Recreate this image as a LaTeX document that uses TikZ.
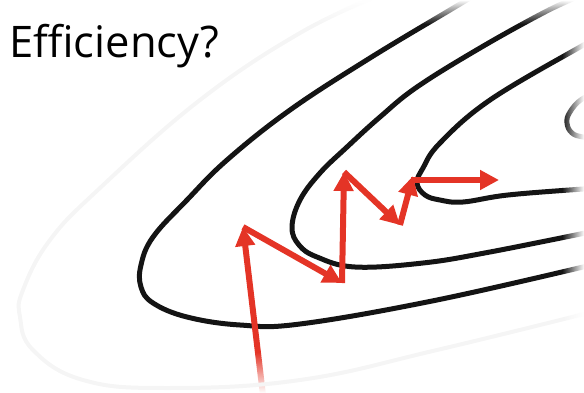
\documentclass[tikz,border=0pt]{standalone}
\usepackage{fontspec}
\setmainfont{Open Sans}
\usetikzlibrary{arrows.meta,fadings}
\tikzfading[name=fadeN, top color=transparent!0, bottom color=transparent!100]
\tikzfading[name=fadeE, right color=transparent!0, left color=transparent!100]
\tikzfading[name=fadeS, bottom color=transparent!0, top color=transparent!100]
\definecolor{arrowred}{RGB}{228,52,38}
\begin{document}
\begin{tikzpicture}[x=1pt,y=-1pt,
  contour/.style={line width=5pt, black!92},
  faint/.style={line width=4pt, black!4},
  grad/.style={line width=6pt, arrowred, -{Triangle[length=19pt,width=19pt]}},
]
\useasboundingbox (0,0) rectangle (584,393);
\clip (0,0) rectangle (584,393);
% contours
\draw[contour] plot[smooth, tension=0.65] coordinates {(475,-5) (450,10) (370,58) (290,110) (227,160) (187,200) (153,237) (141,265) (141,287) (153,303) (187,317) (240,325) (300,324) (437,300) (600,263)};
\draw[contour] plot[smooth, tension=0.65] coordinates {(575,-2) (543,13) (480,48) (417,87) (380,117) (347,147) (320,173) (300,200) (292,227) (299,245) (317,257) (355,267) (423,263) (490,252) (600,230)};
\draw[contour] plot[smooth, tension=0.65] coordinates {(600,37) (580,47) (490,100) (440,143) (423,168) (417,183) (425,195) (440,200) (463,202) (508,195) (583,189) (600,188)};
\draw[contour] plot[smooth, tension=0.7] coordinates {(600,92) (582,99) (570,112) (567,123) (572,133) (583,137) (600,139)};
% gradient steps
\coordinate (p0) at (263,395);
\coordinate (p1) at (243,227);
\coordinate (p2) at (342,283);
\coordinate (p3) at (344,172);
\coordinate (p4) at (400,225);
\coordinate (p5) at (413,176);
\coordinate (p5b) at (411,180);
\coordinate (p6) at (499,180);
\draw[grad] (p0) -- (p1);
\draw[grad] (p1) -- (p2);
\draw[grad] (p2) -- (p3);
\draw[grad] (p3) -- (p4);
\draw[grad] (p4) -- (p5);
\draw[grad] (p5b) -- (p6);
% bottom fade of the start
\fill[white, path fading=fadeS] (235,352) rectangle (292,393);
% faint outer contour
\draw[faint] plot[smooth, tension=0.7] coordinates {(380,-5) (300,33) (200,100) (100,188) (50,240) (23,290) (20,317) (33,350) (83,380) (167,388) (300,380) (437,350) (600,310)};
% edge fades
\fill[white, path fading=fadeN] (0,0) rectangle (584,24);
\fill[white, path fading=fadeE] (562,0) rectangle (584,393);
% title
\node[anchor=base west, inner sep=0pt, font=\fontsize{43.5}{52}\selectfont] (title) at (9,58) {Efficiency?};
\end{tikzpicture}
\end{document}
